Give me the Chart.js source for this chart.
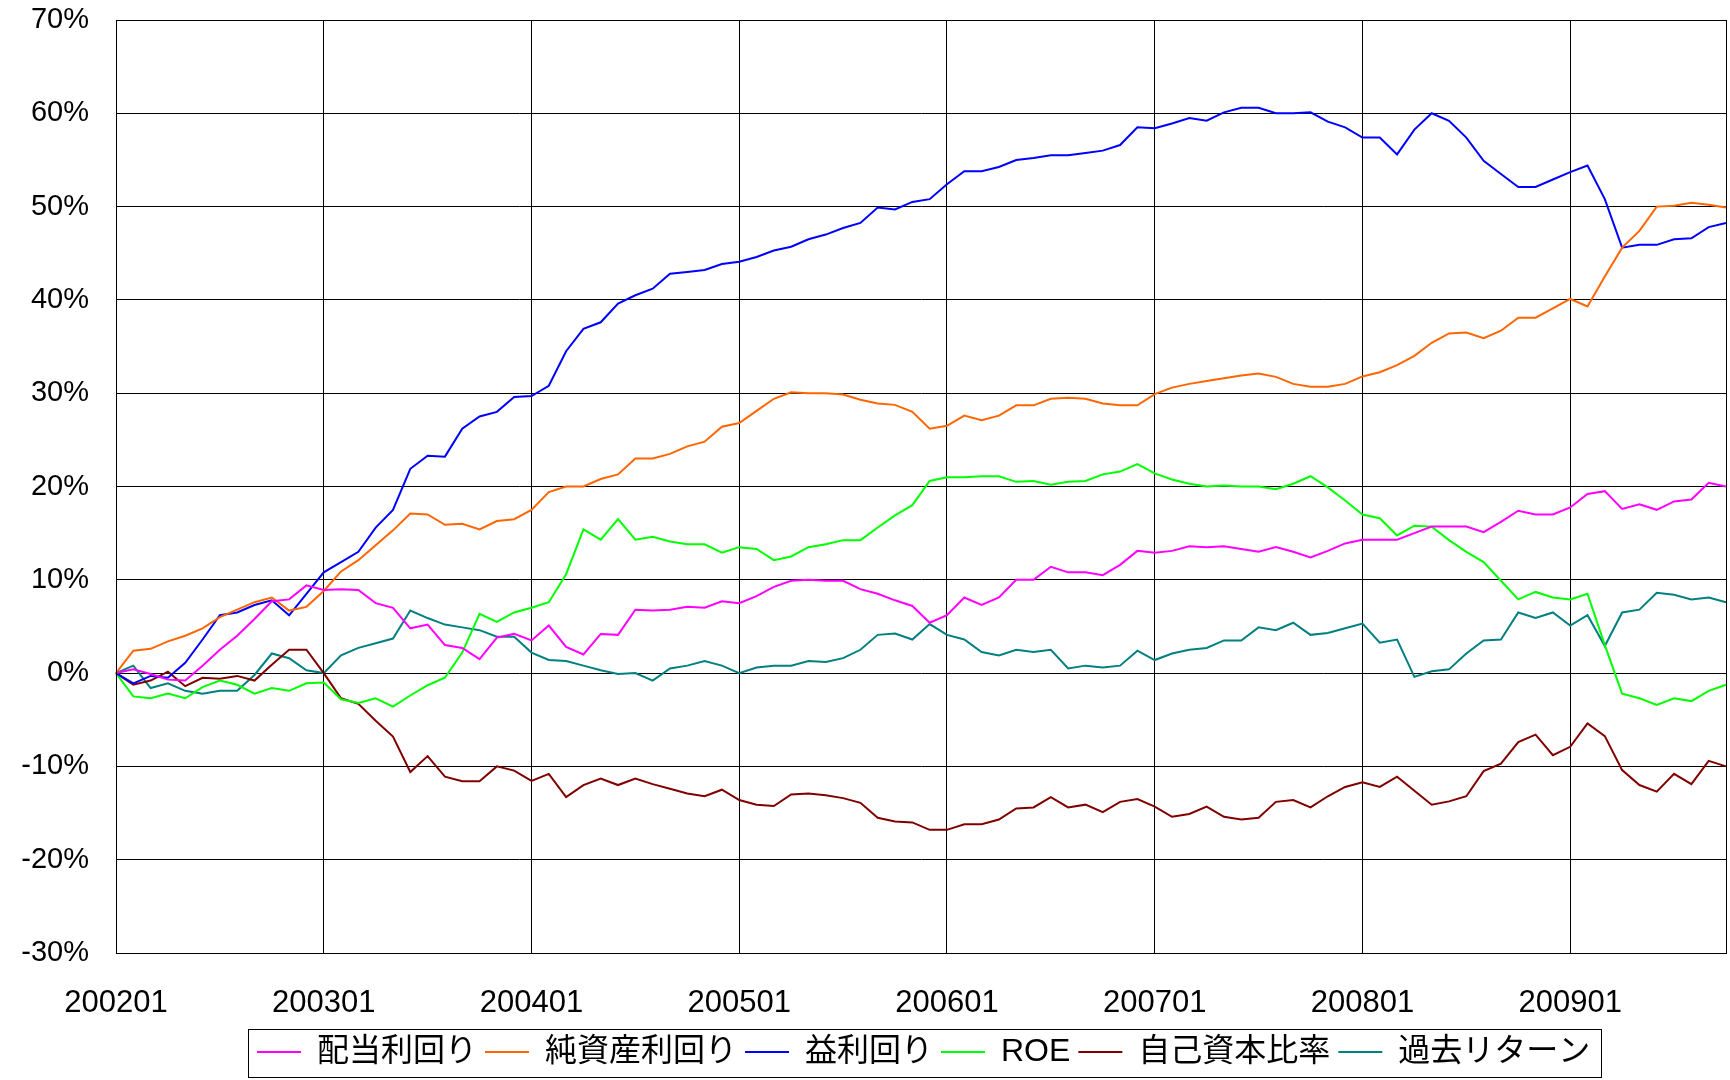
<!DOCTYPE html>
<html>
<head>
<meta charset="utf-8">
<script src="https://cdn.jsdelivr.net/npm/chart.js@4/dist/chart.umd.min.js"></script>
<style>
  html, body { margin: 0; padding: 0; background: #fff; }
</style>
</head>
<body>
<canvas id="chart" width="1730" height="1080"></canvas>
<script>
// monthly categories 200201 .. 200910
const months = [
  '200201','200202','200203','200204','200205','200206','200207','200208','200209','200210','200211','200212',
  '200301','200302','200303','200304','200305','200306','200307','200308','200309','200310','200311','200312',
  '200401','200402','200403','200404','200405','200406','200407','200408','200409','200410','200411','200412',
  '200501','200502','200503','200504','200505','200506','200507','200508','200509','200510','200511','200512',
  '200601','200602','200603','200604','200605','200606','200607','200608','200609','200610','200611','200612',
  '200701','200702','200703','200704','200705','200706','200707','200708','200709','200710','200711','200712',
  '200801','200802','200803','200804','200805','200806','200807','200808','200809','200810','200811','200812',
  '200901','200902','200903','200904','200905','200906','200907','200908','200909','200910'
];

const seriesNames = ['配当利回り', '純資産利回り', '益利回り', 'ROE', '自己資本比率', '過去リターン'];
const seriesColors = ['#ff00ff', '#ff6600', '#0000ff', '#00ff00', '#800000', '#008080'];

// values in %
const divYield = [
  0,0.4,-0.1,-0.7,-0.8,0.8,2.5,4.0,5.8,7.7,7.9,9.4,
  8.9,9.0,8.9,7.5,7.0,4.8,5.2,3.0,2.7,1.5,3.8,4.2,
  3.5,5.1,2.8,2.0,4.2,4.1,6.8,6.7,6.8,7.1,7.0,7.7,
  7.5,8.25,9.25,9.9,10.0,9.9,9.9,9.0,8.5,7.8,7.2,5.4,
  6.2,8.1,7.3,8.1,10.0,10.0,11.4,10.8,10.8,10.5,11.6,13.1,
  12.9,13.1,13.6,13.5,13.6,13.3,13.0,13.5,13.0,12.4,13.1,13.9,
  14.3,14.3,14.3,15.0,15.7,15.7,15.7,15.1,16.2,17.4,17.0,17.0,
  17.75,19.2,19.5,17.6,18.1,17.5,18.4,18.6,20.4,20.0
];
const bookYield = [
  0,2.4,2.6,3.4,4.0,4.8,6.0,6.8,7.6,8.1,6.7,7.1,
  8.8,10.9,12.1,13.7,15.3,17.1,17.0,15.9,16.0,15.4,16.3,16.5,
  17.5,19.4,20.0,20.0,20.8,21.3,23.0,23.0,23.5,24.3,24.8,26.4,
  26.8,28.1,29.4,30.1,30.0,30.0,29.85,29.3,28.9,28.75,28.0,26.2,
  26.5,27.6,27.1,27.6,28.7,28.7,29.4,29.5,29.4,28.9,28.7,28.7,
  29.9,30.6,31.0,31.3,31.6,31.9,32.1,31.75,31.0,30.7,30.7,31.0,
  31.8,32.25,33.0,34.0,35.4,36.4,36.5,35.9,36.7,38.1,38.1,39.1,
  40.1,39.3,42.5,45.6,47.4,50.0,50.1,50.4,50.2,49.9
];
const earnYield = [
  0,-1.1,-0.3,-0.5,1.1,3.6,6.2,6.5,7.3,7.8,6.2,8.5,
  10.8,11.9,13.0,15.6,17.5,21.9,23.3,23.2,26.2,27.5,28.0,29.6,
  29.7,30.8,34.5,36.9,37.6,39.6,40.5,41.2,42.8,43.0,43.2,43.85,
  44.1,44.6,45.3,45.7,46.5,47.0,47.7,48.25,49.9,49.7,50.5,50.8,
  52.4,53.8,53.8,54.25,55.0,55.2,55.5,55.5,55.75,56.0,56.6,58.5,
  58.4,58.9,59.5,59.2,60.1,60.6,60.6,60.0,60.0,60.1,59.1,58.5,
  57.4,57.4,55.6,58.25,60.0,59.2,57.4,54.9,53.5,52.1,52.1,52.9,
  53.7,54.4,50.8,45.6,45.9,45.9,46.5,46.6,47.8,48.25
];
const roe = [
  0,-2.5,-2.7,-2.2,-2.7,-1.5,-0.8,-1.25,-2.2,-1.6,-1.9,-1.1,
  -1.0,-2.8,-3.2,-2.7,-3.6,-2.4,-1.3,-0.5,2.2,6.35,5.5,6.5,
  7.0,7.6,10.6,15.4,14.3,16.5,14.3,14.6,14.1,13.8,13.8,12.9,
  13.5,13.3,12.1,12.5,13.5,13.8,14.25,14.25,15.6,16.9,18.0,20.6,
  21.0,21.0,21.1,21.1,20.5,20.6,20.2,20.5,20.6,21.3,21.6,22.4,
  21.4,20.75,20.3,20.0,20.1,20.0,20.0,19.7,20.3,21.1,19.9,18.5,
  17.0,16.6,14.75,15.8,15.7,14.25,13.0,11.9,9.9,7.9,8.7,8.1,
  7.9,8.5,3.0,-2.2,-2.7,-3.4,-2.7,-3.0,-1.9,-1.25
];
const equityRatio = [
  0,-1.25,-0.8,0.15,-1.4,-0.5,-0.6,-0.3,-0.8,0.9,2.5,2.5,
  0,-2.7,-3.3,-5.1,-6.8,-10.6,-8.9,-11.1,-11.6,-11.6,-10.0,-10.45,
  -11.55,-10.8,-13.3,-12.0,-11.3,-12.0,-11.3,-11.9,-12.4,-12.9,-13.2,-12.5,
  -13.6,-14.1,-14.25,-13.0,-12.9,-13.1,-13.4,-13.9,-15.5,-15.9,-16.0,-16.8,
  -16.8,-16.2,-16.2,-15.7,-14.5,-14.4,-13.3,-14.4,-14.1,-14.9,-13.8,-13.5,
  -14.3,-15.4,-15.1,-14.3,-15.4,-15.7,-15.5,-13.8,-13.6,-14.4,-13.2,-12.2,
  -11.7,-12.2,-11.1,-12.6,-14.1,-13.75,-13.2,-10.5,-9.7,-7.4,-6.6,-8.8,
  -7.9,-5.4,-6.75,-10.4,-12.0,-12.7,-10.8,-11.9,-9.4,-10.0
];
const pastReturn = [
  0,0.8,-1.6,-1.1,-1.9,-2.2,-1.9,-1.9,-0.2,2.1,1.6,0.3,
  0,1.9,2.7,3.2,3.7,6.7,5.9,5.2,4.9,4.6,3.9,3.9,
  2.2,1.4,1.3,0.8,0.3,-0.1,0,-0.8,0.5,0.8,1.3,0.8,
  0,0.6,0.8,0.8,1.3,1.2,1.6,2.5,4.1,4.25,3.6,5.25,
  4.1,3.6,2.25,1.9,2.5,2.25,2.5,0.5,0.8,0.6,0.8,2.4,
  1.4,2.1,2.5,2.7,3.5,3.5,4.9,4.6,5.4,4.1,4.3,4.8,
  5.3,3.25,3.6,-0.4,0.2,0.4,2.1,3.5,3.6,6.5,5.9,6.5,
  5.1,6.2,2.9,6.5,6.8,8.6,8.4,7.9,8.1,7.6
];

const allSeries = [divYield, bookYield, earnYield, roe, equityRatio, pastReturn];

const LEGEND_X = 257;
const FONT = "'Liberation Sans', 'Noto Sans CJK JP', sans-serif";

// frame around plot area and legend, plus legend nudge
const framePlugin = {
  id: 'framePlugin',
  afterUpdate(chart) {
    const lg = chart.legend;
    if (!lg || !lg.legendHitBoxes.length) return;
    const dx = LEGEND_X - lg.legendHitBoxes[0].left;
    lg.left += dx;
    lg.right += dx;
    lg.legendHitBoxes.forEach(h => { h.left += dx; });
  },
  afterDraw(chart) {
    const ctx = chart.ctx;
    const a = chart.chartArea;
    ctx.save();
    ctx.strokeStyle = '#000';
    ctx.lineWidth = 1;
    ctx.strokeRect(Math.round(a.left) + 0.5, Math.round(a.top) + 0.5,
      Math.round(a.right - a.left), Math.round(a.bottom - a.top));
    const hb = chart.legend.legendHitBoxes;
    const first = hb[0], last = hb[hb.length - 1];
    const cy = first.top + first.height / 2;
    ctx.strokeRect(Math.round(first.left - 9) + 0.5, Math.round(cy - 23) + 0.5,
      Math.round(last.left + last.width - first.left + 20), 48);
    ctx.restore();
  }
};

function noEdgePad(s) {
  s.paddingTop = 0;
  s.paddingBottom = 0;
  s.paddingLeft = 0;
  s.paddingRight = 0;
}

new Chart(document.getElementById('chart'), {
  type: 'line',
  data: {
    labels: months,
    datasets: seriesNames.map((name, i) => ({
      label: name,
      data: allSeries[i],
      borderColor: seriesColors[i],
      backgroundColor: seriesColors[i],
      borderWidth: 2,
      pointRadius: 0,
      tension: 0,
      fill: false
    }))
  },
  options: {
    responsive: false,
    animation: false,
    layout: { padding: { left: 0, right: 4, top: 20, bottom: 2 } },
    plugins: {
      tooltip: { enabled: false },
      legend: {
        position: 'bottom',
        labels: {
          color: '#000',
          font: { family: FONT, size: 32 },
          usePointStyle: true,
          pointStyle: 'line',
          pointStyleWidth: 44,
          padding: 8
        }
      }
    },
    scales: {
      x: {
        type: 'category',
        offset: false,
        afterFit: s => { s.height = 75; noEdgePad(s); },
        grid: {
          drawTicks: false,
          color: c => (c.index % 12 === 0 ? '#000' : 'rgba(0,0,0,0)'),
          lineWidth: 1
        },
        border: { display: true, color: '#000' },
        ticks: {
          autoSkip: false,
          maxRotation: 0,
          minRotation: 0,
          padding: 32,
          color: '#000',
          font: { family: FONT, size: 31 },
          callback: function (v, i) { return i % 12 === 0 ? months[i] : ''; }
        }
      },
      y: {
        min: -30,
        max: 70,
        afterFit: s => { s.width = 116; noEdgePad(s); },
        grid: { drawTicks: false, color: '#000', lineWidth: 1 },
        border: { display: true, color: '#000' },
        ticks: {
          stepSize: 10,
          padding: 27,
          color: '#000',
          font: { family: FONT, size: 29, lineHeight: 1 },
          callback: v => v + '%'
        }
      }
    }
  },
  plugins: [framePlugin]
});
</script>
</body>
</html>
